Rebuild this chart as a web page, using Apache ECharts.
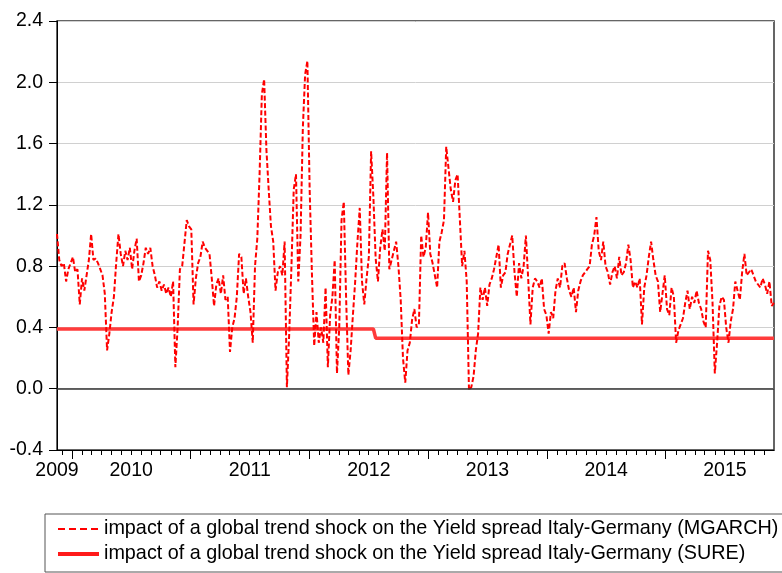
<!DOCTYPE html>
<html><head><meta charset="utf-8">
<script src="https://cdn.jsdelivr.net/npm/echarts@6/dist/echarts.min.js"></script>
<style>html,body{margin:0;padding:0;background:#fff}#c{width:782px;height:573px}</style>
</head><body><div id="c"></div>
<script>
// ---- data (weekly observations, first week starting 2009-11-16) ----
const firstWeek = [2009, 11, 16];
const mgarchA = [1.01,0.84,0.80,0.82,0.70,0.78,0.82,0.86,0.76,0.78,
  0.55,0.72,0.64,0.74,0.84,1.01,0.84,0.85,0.82,0.78,
  0.74,0.62,0.25,0.36,0.50,0.60,0.82,1.01,0.88,0.80,
  0.90,0.84,0.92,0.78,0.90,0.98,0.70,0.74,0.82,0.92,
  0.88,0.92,0.80,0.74,0.66,0.70,0.64,0.68,0.62,0.66,
  0.60,0.70,0.14,0.40];
const mgarchB = [0.78,0.80,0.95,1.10,1.06,1.04,0.55,0.72,0.82,0.86,
  0.96,0.92,0.90,0.88,0.72,0.54,0.68,0.72,0.62,0.74,
  0.58,0.60,0.24,0.40,0.46,0.60,0.88,0.86,0.62,0.72,
  0.60,0.50,0.30,0.80,0.98,1.40,1.92,2.02,1.56,1.30,
  1.06,0.96,0.64,0.76,0.80,0.74,0.96,0.01,0.35,0.80,
  1.30,1.40];
const mgarchC = [0.70,1.00,1.70,2.05,2.14,1.30,0.75,0.28,0.50,0.30,
  0.40,0.30,0.66,0.14,0.48,0.60,0.84,0.10,0.40,1.10,
  1.22,0.60,0.09,0.25,0.48,0.70,0.96,1.18,0.70,0.55,
  0.72,0.86,1.55,1.25,0.85,0.70,0.92,1.04,0.90,1.54,
  0.78,0.84,0.90,0.96,0.80,0.58,0.20,0.04,0.25,0.30,
  0.45,0.52,0.40,0.42];
const mgarchD = [1.00,0.86,0.92,1.15,0.88,0.82,0.74,0.66,0.96,1.02,
  1.10,1.58,1.44,1.30,1.22,1.36,1.40,1.10,0.80,0.90,
  0.70,-0.01,0.01,0.08,0.25,0.36,0.66,0.58,0.66,0.54,
  0.68,0.72,0.78,0.86,0.94,0.66,0.74,0.76,0.88,0.94,
  1.00,0.76,0.60,0.82,0.72,0.80,1.00,0.72,0.42,0.66,
  0.72];
const mgarchE = [0.70,0.66,0.72,0.52,0.48,0.36,0.50,0.46,0.64,0.72,
  0.66,0.80,0.82,0.72,0.64,0.60,0.66,0.50,0.64,0.70,
  0.74,0.76,0.78,0.80,0.94,1.00,1.12,0.90,0.84,0.96,
  0.80,0.76,0.68,0.76,0.80,0.72,0.86,0.74,0.76,0.82,
  0.94,0.84,0.66,0.70,0.66,0.72,0.42,0.66,0.74,0.86,
  0.96,0.84];
const mgarchF = [0.74,0.70,0.50,0.62,0.74,0.52,0.48,0.66,0.60,0.30,
  0.38,0.42,0.46,0.56,0.64,0.52,0.60,0.56,0.64,0.56,
  0.52,0.44,0.40,0.90,0.84,0.56,0.10,0.30,0.54,0.60,
  0.58,0.40,0.30,0.44,0.52,0.70,0.64,0.58,0.76,0.88,
  0.74,0.76,0.78,0.74,0.70,0.68,0.66,0.72,0.68,0.62,
  0.70,0.54,0.56];
const sureLevels = [0.39, 0.33];
const sureBreakWeek = 140;
const yearLabels = [2009, 2010, 2011, 2012, 2013, 2014, 2015];
const yTicks = [-0.4, 0.0, 0.4, 0.8, 1.2, 1.6, 2.0, 2.4];
const seriesNames = [
  'impact of a global trend shock on the Yield spread Italy-Germany (MGARCH)',
  'impact of a global trend shock on the Yield spread Italy-Germany (SURE)'
];

// ---- build ----
const DAY = 86400000;
const mgarch = [].concat(mgarchA, mgarchB, mgarchC, mgarchD, mgarchE, mgarchF);
const t0 = Date.UTC(firstWeek[0], firstWeek[1] - 1, firstWeek[2]);
const dates = mgarch.map((_, i) => t0 + i * 7 * DAY);
const mgarchData = mgarch.map((v, i) => [dates[i], v]);
const sureData = dates.map((d, i) => [d, i < sureBreakWeek ? sureLevels[0] : sureLevels[1]]);
const xMin = dates[0], xMax = dates[dates.length - 1];
const monthTicks = [];
for (let y = yearLabels[0]; y <= yearLabels[yearLabels.length - 1]; y++) {
  for (let m = 1; m < 12; m++) {
    const t = Date.UTC(y, m, 1);
    if (t > xMin && t <= xMax) monthTicks.push(t);
  }
}
const yearTicks = yearLabels.slice(1).map(y => Date.UTC(y, 0, 1));
const labelVals = [xMin].concat(yearLabels.slice(1).map(y => Date.UTC(y, 6, 2)));
const FONT = 'Liberation Sans, Arial, sans-serif';

const chart = echarts.init(document.getElementById('c'), null, {renderer: 'canvas'});
chart.setOption({
  animation: false,
  backgroundColor: '#fff',
  grid: {left: 57, right: 8, top: 21, bottom: 123, show: true, borderColor: '#333', borderWidth: 1.5, backgroundColor: 'transparent'},
  xAxis: [{
    type: 'value', min: xMin, max: xMax, position: 'bottom',
    axisLine: {onZero: false, lineStyle: {color: '#000', width: 1}},
    axisTick: {show: true, length: 5, customValues: monthTicks, lineStyle: {color: '#000'}},
    axisLabel: {show: false},
    splitLine: {show: false}
  }, {
    type: 'value', min: xMin, max: xMax, position: 'bottom',
    axisLine: {show: false, onZero: false},
    axisTick: {show: true, length: 9, customValues: yearTicks, lineStyle: {color: '#000'}},
    axisLabel: {show: true, customValues: labelVals, margin: 11, fontSize: 19.5, fontFamily: FONT, color: '#000',
      formatter: v => String(new Date(v).getUTCFullYear())},
    splitLine: {show: false}
  }],
  yAxis: {
    type: 'value', min: yTicks[0], max: yTicks[yTicks.length - 1], interval: 0.4,
    axisLine: {show: true, lineStyle: {color: '#000', width: 1}},
    axisTick: {show: true, length: 8, lineStyle: {color: '#000'}},
    axisLabel: {margin: 14, fontSize: 19.5, fontFamily: FONT, color: '#000', formatter: v => v.toFixed(1)},
    splitLine: {show: true, lineStyle: {color: '#d0d0d0', width: 1}}
  },
  legend: {
    left: 45, top: 514, orient: 'vertical', borderColor: '#555', borderWidth: 1,
    padding: [4, 12, 7, 11], itemWidth: 41, itemHeight: 14, itemGap: 3,
    textStyle: {fontSize: 19.8, fontFamily: FONT, color: '#000', lineHeight: 22},
    data: [
      {name: seriesNames[0], itemStyle: {opacity: 0}, lineStyle: {type: [7, 4], width: 2, color: '#ff0000'}},
      {name: seriesNames[1], itemStyle: {opacity: 0}, lineStyle: {type: 'solid', width: 4, color: '#ff1a1a'}}
    ]
  },
  series: [{
    name: seriesNames[1], type: 'line', xAxisIndex: 0, data: sureData,
    symbol: 'none', showSymbol: false, z: 2,
    lineStyle: {color: '#ff3b3b', width: 3.5, type: 'solid'}, itemStyle: {color: '#ff3b3b'},
    markLine: {silent: true, symbol: ['none', 'none'], label: {show: false},
      lineStyle: {color: '#333', width: 1.5, type: 'solid'}, data: [{yAxis: 0}]}
  }, {
    name: seriesNames[0], type: 'line', xAxisIndex: 0, data: mgarchData,
    symbol: 'none', showSymbol: false, z: 3,
    lineStyle: {color: '#ff0000', width: 2, type: [5, 2.5]}, itemStyle: {color: '#ff0000'}
  }]
});
</script>
</body></html>
